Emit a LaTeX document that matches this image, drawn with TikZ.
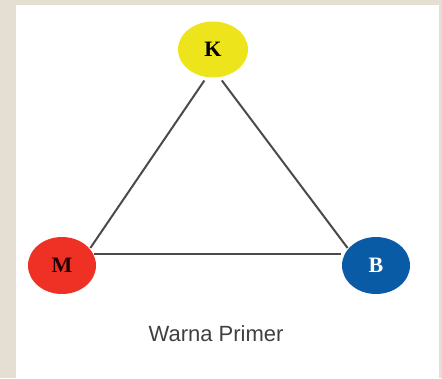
\documentclass[tikz,border=0pt]{standalone}
\usepackage{fontspec}
\setmainfont{Liberation Serif}
\newfontfamily\labelfont{Liberation Sans}
\usetikzlibrary{shapes.geometric}
\definecolor{bgbeige}{HTML}{E5DED3}
\definecolor{kyellow}{HTML}{EEE41C}
\definecolor{mred}{HTML}{EE3124}
\definecolor{bblue}{HTML}{0A5BA6}
\definecolor{linegray}{HTML}{4A4A4A}
\definecolor{textgray}{HTML}{404040}
\tikzset{
  colornode/.style={ellipse, minimum width=68pt, minimum height=57pt, inner sep=0pt,
    font=\fontsize{22}{22}\selectfont\bfseries},
  edge/.style={draw=linegray, line width=2pt}
}
\begin{document}
\begin{tikzpicture}[x=1pt,y=-1pt]
\useasboundingbox (0,0) rectangle (442,378);
\fill[bgbeige] (0,0) rectangle (442,378);
\fill[white] (16,5) rectangle (439,378);
\node[colornode, fill=kyellow, text=black, minimum width=70pt, minimum height=56pt] (K) at (213,49.5) {K};
\node[colornode, fill=mred, text=black!85!red] (M) at (62,265.5) {M};
\node[colornode, fill=bblue, text=white] (B) at (376,265.5) {B};
\draw[edge, shorten <=4pt, shorten >=1pt] (K.257) -- (M.31);
\draw[edge, shorten <=4pt, shorten >=1pt] (K.283) -- (B.149);
\draw[edge, shorten <=1pt, shorten >=4pt] (M.20) -- (B.160);
\node[font=\labelfont\fontsize{22}{22}\selectfont, text=textgray, anchor=base] (title) at (216,341) {Warna Primer};
\end{tikzpicture}
\end{document}
